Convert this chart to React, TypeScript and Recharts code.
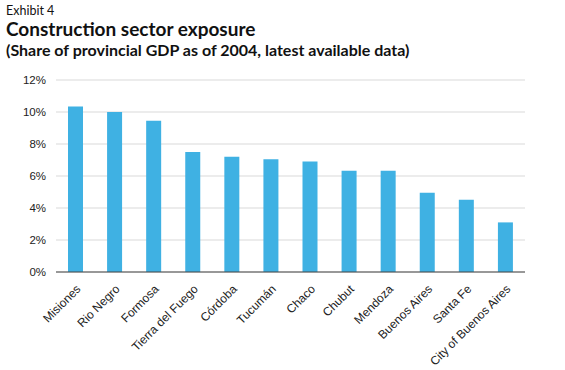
import { BarChart, Bar, XAxis, YAxis, CartesianGrid } from 'recharts';

const provinces = [
  'Misiones',
  'Rio Negro',
  'Formosa',
  'Tierra del Fuego',
  'Córdoba',
  'Tucumán',
  'Chaco',
  'Chubut',
  'Mendoza',
  'Buenos Aires',
  'Santa Fe',
  'City of Buenos Aires',
];
const shares = [10.35, 10.0, 9.45, 7.5, 7.2, 7.05, 6.9, 6.33, 6.33, 4.95, 4.52, 3.1];
const yTicks = [0, 2, 4, 6, 8, 10, 12];

const chartData = provinces.map((name, i) => ({ name, value: shares[i] }));

const RotatedTick = (props: any) => {
  const { x, y, payload } = props;
  return (
    <g transform={`translate(${x + 3},${y + 7})`}>
      <text
        x={0}
        y={0}
        dy={4}
        textAnchor="end"
        transform="rotate(-45)"
        fontSize={12}
        fill="#222"
        fontFamily="'Liberation Sans', Arial, sans-serif"
      >
        {payload.value}
      </text>
    </g>
  );
};

export default function App() {
  return (
    <div
      style={{
        position: 'absolute',
        left: 0,
        top: 0,
        width: 565,
        height: 370,
        background: '#fff',
        fontFamily: "Lato, 'Noto Sans', sans-serif",
        color: '#111',
      }}
    >
      <div style={{ position: 'absolute', left: 6, top: 3, fontSize: 12.5 }}>Exhibit 4</div>
      <div style={{ position: 'absolute', left: 6, top: 17, fontSize: 19, fontWeight: 700 }}>
        Construction sector exposure
      </div>
      <div style={{ position: 'absolute', left: 6, top: 40, fontSize: 16, fontWeight: 700 }}>
        (Share of provincial GDP as of 2004, latest available data)
      </div>
      <div style={{ position: 'absolute', left: 0, top: 60 }}>
        <BarChart
          width={565}
          height={310}
          data={chartData}
          margin={{ top: 20, right: 40, left: 0, bottom: 0 }}
        >
          <CartesianGrid vertical={false} stroke="#d9d9d9" />
          <XAxis
            dataKey="name"
            interval={0}
            tickLine={false}
            axisLine={{ stroke: '#444' }}
            height={98}
            tick={<RotatedTick />}
          />
          <YAxis
            width={56}
            domain={[0, 12]}
            ticks={yTicks}
            tickFormatter={(v: number) => `${v}%`}
            axisLine={false}
            tickLine={false}
            tickMargin={4}
            tick={{ fontSize: 11.5, fill: '#222', fontFamily: "'Liberation Sans', Arial, sans-serif" }}
          />
          <Bar dataKey="value" fill="#3fb1e3" barSize={15} isAnimationActive={false} />
        </BarChart>
      </div>
    </div>
  );
}
